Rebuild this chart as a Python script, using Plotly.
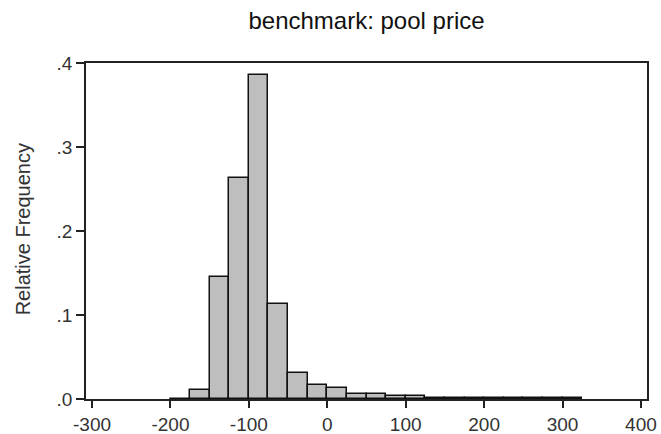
import plotly.graph_objects as go

# Histogram bins (width 25) and relative frequencies
bin_left = [-200, -175, -150, -125, -100, -75, -50, -25, 0, 25, 50, 75, 100,
            125, 150, 175, 200, 225, 250, 275, 300]
rel_freq = [0.0006, 0.011, 0.145, 0.263, 0.386, 0.113, 0.031, 0.017, 0.013,
            0.0055, 0.0055, 0.003, 0.003,
            0.0008, 0.0008, 0.0008, 0.0008, 0.0008, 0.0008, 0.0008, 0.0008]
bin_width = 25

x_ticks = [-300, -200, -100, 0, 100, 200, 300, 400]
x_tick_labels = ["-300", "-200", "-100", "0", "100", "200", "300", "400"]
y_ticks = [0.0, 0.1, 0.2, 0.3, 0.4]
y_tick_labels = [".0", ".1", ".2", ".3", ".4"]

title_text = "benchmark: pool price"
y_title = "Relative Frequency"

centers = [b + bin_width / 2 for b in bin_left]

fig = go.Figure(go.Bar(
    x=centers, y=rel_freq, width=bin_width,
    marker=dict(color="#BEBEBE", line=dict(color="#111111", width=1.5)),
))

FONT = "Liberation Sans, Arial, sans-serif"

fig.update_layout(
    width=661, height=434,
    margin=dict(l=86, r=14, t=63, b=35, autoexpand=False),
    paper_bgcolor="white", plot_bgcolor="white",
    showlegend=False,
    bargap=0,
    font=dict(family=FONT, color="#222222"),
    title=dict(text=title_text, x=0.5, xref="paper", xanchor="center",
               y=1 - 21 / 434, yanchor="middle",
               font=dict(family=FONT, size=24, color="#111111")),
    xaxis=dict(range=[-307.7, 407.7], tickvals=x_ticks, ticktext=x_tick_labels,
               automargin=False,
               ticks="outside", ticklen=7, tickwidth=1.5, tickcolor="#222222",
               showline=True, linecolor="#222222", linewidth=1.5, mirror=True,
               showgrid=False, zeroline=False,
               tickfont=dict(family=FONT, size=19, color="#333333")),
    yaxis=dict(range=[0, 0.4], tickvals=y_ticks, ticktext=y_tick_labels,
               automargin=False,
               ticks="outside", ticklen=8, tickwidth=1.5, tickcolor="#222222",
               showline=True, linecolor="#222222", linewidth=1.5, mirror=True,
               showgrid=False, zeroline=False,
               tickfont=dict(family=FONT, size=19, color="#333333")),
    annotations=[dict(text=y_title, textangle=-90, xref="paper", yref="paper",
                      x=(23 - 86) / 561, y=0.505, xanchor="center", yanchor="middle",
                      showarrow=False,
                      font=dict(family=FONT, size=20, color="#333333"))],
)

fig.write_html("out.html")
